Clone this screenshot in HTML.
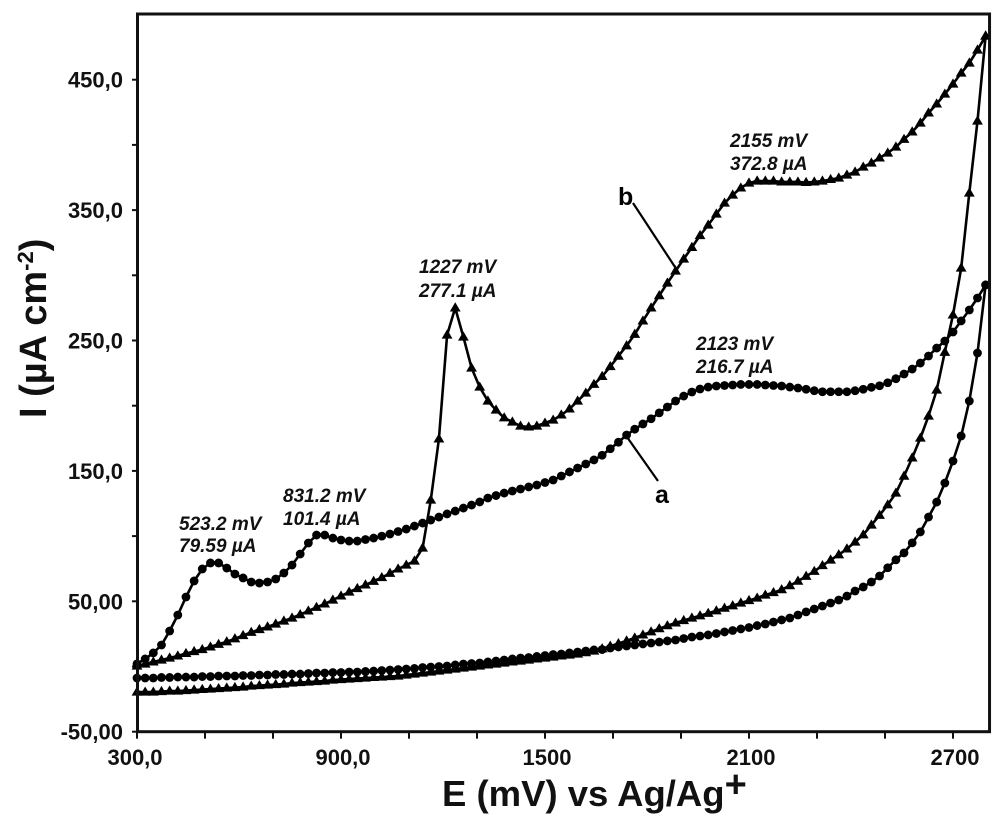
<!DOCTYPE html>
<html lang="en">
<head>
<meta charset="utf-8">
<title>Cyclic voltammogram</title>
<style>
html,body{margin:0;padding:0;background:#fff;}
#chart{display:block;width:1000px;height:821px;filter:blur(0.35px);font-family:"Liberation Sans",Arial,sans-serif;}
.tick-label{font-size:22px;font-weight:700;fill:#111;}
.note{font-size:19px;font-weight:700;font-style:italic;fill:#111;}
.curve-label{font-size:25px;font-weight:700;fill:#000;}
</style>
</head>
<body>
<svg id="chart" xmlns="http://www.w3.org/2000/svg" width="1000" height="821" viewBox="0 0 1000 821">
  <rect x="0" y="0" width="1000" height="821" fill="#fff"/>
  <g id="ticks"></g>
  <g id="tick-labels"></g>
  <g id="series"></g>
  <rect id="frame" fill="none" stroke="#111" stroke-width="3"/>
  <line x1="627" y1="437" x2="658" y2="481" stroke="#000" stroke-width="2.2"/>
  <line x1="633" y1="203" x2="675" y2="267" stroke="#000" stroke-width="2.2"/>
  <text class="curve-label" x="655" y="503">a</text>
  <text class="curve-label" x="618" y="205">b</text>
  <text class="note" x="179" y="530">523.2 mV</text>
  <text class="note" x="179" y="552">79.59 µA</text>
  <text class="note" x="283" y="502">831.2 mV</text>
  <text class="note" x="283" y="525">101.4 µA</text>
  <text class="note" x="419" y="273">1227 mV</text>
  <text class="note" x="419" y="297">277.1 µA</text>
  <text class="note" x="730" y="147">2155 mV</text>
  <text class="note" x="730" y="170">372.8 µA</text>
  <text class="note" x="696" y="350">2123 mV</text>
  <text class="note" x="696" y="373">216.7 µA</text>
  <text x="442" y="806" font-size="36.5" font-weight="700" fill="#111">E (mV) vs Ag/Ag<tspan font-size="38" dy="-9">+</tspan></text>
  <text transform="translate(46,418) rotate(-90)" font-size="38" font-weight="700" fill="#111">I (µA cm<tspan font-size="22" dy="-13">-2</tspan><tspan dy="13">)</tspan></text>
</svg>
<script>
const xTickValues = [300,500,700,900,1100,1300,1500,1700,1900,2100,2300,2500,2700];
const xLabelValues = [300,900,1500,2100,2700];
const xLabelTexts = ["300,0","900,0","1500","2100","2700"];
const yTickValues = [-50,0,50,100,150,200,250,300,350,400,450];
const yLabelValues = [-50,50,150,250,350,450];
const yLabelTexts = ["-50,00","50,00","150,0","250,0","350,0","450,0"];

const potentials = [300,324,348,372,396,420,444,468,492,516,540,564,588,612,636,660,684,708,732,756,780,804,828,852,876,900,924,948,972,996,1020,1044,1068,1092,1116,1140,1164,1188,1212,1236,1260,1284,1308,1332,1356,1380,1404,1428,1452,1476,1500,1524,1548,1572,1596,1620,1644,1668,1692,1716,1740,1764,1788,1812,1836,1860,1884,1908,1932,1956,1980,2004,2028,2052,2076,2100,2124,2148,2172,2196,2220,2244,2268,2292,2316,2340,2364,2388,2412,2436,2460,2484,2508,2532,2556,2580,2604,2628,2652,2676,2700,2724,2748,2772,2796];

const curveAForward = [2,5.8,10.4,16.5,27.2,39.5,53.3,65.6,74.8,79.4,79.4,75.5,70.9,67.9,64.8,64,64.8,67.1,71.7,77.8,86.3,94.7,100.8,100.8,98.5,97,96.2,96.2,97.4,98.5,100,101.6,103.5,105.4,107.7,110,112.3,114.6,117,119.2,121.5,123.8,126.2,129.2,131.1,133,134.6,136.1,137.7,139.2,141.1,143,146.1,149.2,152.2,155.3,158.4,162,167,172,177.5,182,186,190,194.5,199,203.6,207.4,210.5,212.8,214.3,215.1,215.5,215.9,216.3,216.3,216.3,215.9,215.5,215.1,214.3,213.6,212.6,211.5,210.7,210.7,210.7,210.7,211.5,212.6,214.1,215.3,217.6,220.7,224.3,228.1,232.7,238.1,244.2,249.6,256.5,265,273.4,282.6,292.6];

const curveAReverse = [-8.8,-8.8,-8.8,-8.4,-8.4,-8.1,-8.1,-8.1,-7.7,-7.7,-7.3,-7.3,-7.3,-6.9,-6.9,-6.5,-6.5,-6.1,-6.1,-5.8,-5.8,-5.4,-5,-5,-4.6,-4.6,-4.2,-4.2,-3.8,-3.5,-3.1,-2.7,-2.3,-1.9,-1.5,-0.8,-0.4,0,0.4,1.2,1.9,2.3,2.7,3.5,4.2,5,5.8,6.5,6.9,7.7,8.4,9.2,9.6,10.4,11.1,11.9,12.7,13,14.2,15,15.7,16.5,17.3,18,18.8,19.6,20.3,21.5,22.6,23.4,24.2,25.3,26.5,27.6,28.8,29.9,31.4,32.6,34.1,35.7,37.2,39.5,41.9,44.1,46.4,48.7,51,54,57.9,61,64.8,69.4,75.7,81.8,87.1,94.8,103.2,114.6,126.1,140.7,157.6,176.8,203.6,240.4,292.6];

const curveBForward = [0.4,1.9,3.5,5,6.5,8.1,10,11.5,13,15,17,19,21.3,23.8,26.2,28.4,30.4,32.6,34.9,37.2,39.8,42.6,45.4,48,51,54.1,57.1,59.8,62.6,65.4,68.2,71.5,74.8,77.8,80.9,90.9,127.7,174.5,254.2,275,252.7,228.9,214.3,203.6,196.7,190.7,187.5,184.4,183.7,184.4,186.7,189,192.9,197.5,203.6,209.7,216.4,222.5,230,238,246,254.8,265,275,284.4,294.1,303.3,312.5,321.4,330.5,338.6,347,355.4,361.6,367,370.8,372.3,372.3,372.3,371.6,371.6,371.6,371.2,371.6,372.3,373.5,374.6,376.9,379.2,383,386.1,390,393.8,398.4,404.3,410,416.8,424.5,431.4,439,446.7,455.1,462.8,472.8,483.5];

const curveBReverse = [-19.6,-19.6,-19.6,-19.2,-18.8,-18.8,-18.4,-18,-17.6,-17.3,-16.9,-16.5,-16.1,-15.7,-15,-14.6,-14.2,-13.8,-13.4,-12.7,-12.3,-11.9,-11.5,-11.1,-10.4,-10,-9.6,-9.2,-8.8,-8.4,-8.1,-7.7,-7.3,-6.5,-5.8,-5,-4.2,-3.5,-2.7,-1.9,-1.2,-0.4,0.4,1.2,1.9,2.7,3.5,4.2,5,5.8,6.5,7.3,8.1,8.8,9.6,10.6,11.9,13.6,15.6,17.6,19.7,21.9,24.2,26.6,29,31.3,33.4,35.3,37.2,38.9,40.8,42.7,44.7,46.6,48.7,50.6,52.5,54.8,56.7,58.9,62,65.5,69.2,73,77.4,81.7,85.7,90.2,95.5,101,108.5,116,124,133,146,160,175.2,192.1,212,241,269.6,305.6,363.1,418.3,483.5];

const xAxisMin = 300;
const xAxisMax = 2806;
const yAxisMin = -50;
const yAxisMax = 500;

function xScale(v){ return 137 + (v - 300) * 0.34; }
function yScale(v){ return 666.5 - v * 1.304; }

const NS = "http://www.w3.org/2000/svg";

const frame = document.getElementById("frame");
frame.setAttribute("x", xScale(xAxisMin) + 0.5);
frame.setAttribute("y", 14);
frame.setAttribute("width", xScale(xAxisMax) - xScale(xAxisMin));
frame.setAttribute("height", yScale(yAxisMin) - 14);

const tickGroup = document.getElementById("ticks");
const labelGroup = document.getElementById("tick-labels");

xTickValues.forEach(function(v){
  const t = document.createElementNS(NS, "line");
  
  
  t.setAttribute("x1", xScale(v));
  t.setAttribute("x2", xScale(v));
  t.setAttribute("y1", yScale(yAxisMin));
  t.setAttribute("y2", yScale(yAxisMin) + 7);
  t.setAttribute("stroke", "#111");
  t.setAttribute("stroke-width", "2");
  tickGroup.appendChild(t);
});

yTickValues.forEach(function(v){
  const t = document.createElementNS(NS, "line");
  
  
  t.setAttribute("x1", xScale(xAxisMin) - 5);
  t.setAttribute("x2", xScale(xAxisMin));
  t.setAttribute("y1", yScale(v));
  t.setAttribute("y2", yScale(v));
  t.setAttribute("stroke", "#111");
  t.setAttribute("stroke-width", "2");
  tickGroup.appendChild(t);
});

xLabelValues.forEach(function(v, i){
  const t = document.createElementNS(NS, "text");
  
  
  t.setAttribute("class", "tick-label");
  t.setAttribute("x", xScale(v) + (i === 0 ? -2 : 2));
  t.setAttribute("y", 765);
  t.setAttribute("text-anchor", "middle");
  t.textContent = xLabelTexts[i];
  labelGroup.appendChild(t);
});

yLabelValues.forEach(function(v, i){
  const t = document.createElementNS(NS, "text");
  
  
  t.setAttribute("class", "tick-label");
  t.setAttribute("x", 123);
  t.setAttribute("y", yScale(v) + 8);
  t.setAttribute("text-anchor", "end");
  t.textContent = yLabelTexts[i];
  labelGroup.appendChild(t);
});

const seriesGroup = document.getElementById("series");

function linePoints(values){
  return values.map(function(v, i){
    return xScale(potentials[i]).toFixed(1) + "," + yScale(v).toFixed(1);
  });
}

function drawLine(forward, reverse){
  const fwd = linePoints(forward);
  const rev = linePoints(reverse).reverse();
  const p = document.createElementNS(NS, "polyline");
  
  
  p.setAttribute("points", fwd.concat(rev).join(" "));
  p.setAttribute("fill", "none");
  p.setAttribute("stroke", "#000");
  p.setAttribute("stroke-width", "2.6");
  p.setAttribute("stroke-linejoin", "round");
  seriesGroup.appendChild(p);
}

function drawCircles(values){
  values.forEach(function(v, i){
    const c = document.createElementNS(NS, "circle");
    
    
    c.setAttribute("cx", xScale(potentials[i]));
    c.setAttribute("cy", yScale(v));
    c.setAttribute("r", 4.4);
    c.setAttribute("fill", "#000");
    seriesGroup.appendChild(c);
  });
}

function drawTriangles(values){
  values.forEach(function(v, i){
    const cx = xScale(potentials[i]);
    const cy = yScale(v);
    const t = document.createElementNS(NS, "polygon");
    
    
    t.setAttribute("points", [cx, cy - 5.6, cx + 5.4, cy + 3.6, cx - 5.4, cy + 3.6].join(","));
    t.setAttribute("fill", "#000");
    seriesGroup.appendChild(t);
  });
}

drawLine(curveBForward, curveBReverse);
drawLine(curveAForward, curveAReverse);
drawTriangles(curveBForward);
drawTriangles(curveBReverse);
drawCircles(curveAForward);
drawCircles(curveAReverse);
</script>
</body>
</html>
